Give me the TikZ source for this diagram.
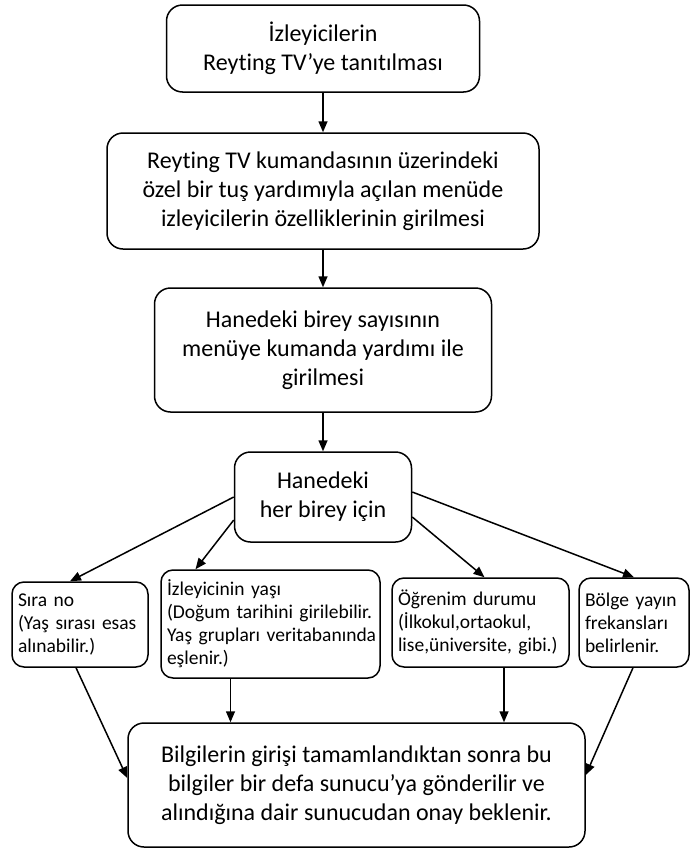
\documentclass[tikz,border=0pt]{standalone}
\usepackage{fontspec}
\setmainfont{Carlito}[Ligatures=NoCommon]
\usetikzlibrary{arrows.meta}

% stretch one line of a small box to its full width
\newcommand{\fullline}[1]{\makebox[\hsize][s]{#1}}

\begin{document}
\begin{tikzpicture}[x=1pt,y=-1pt,
    bigbox/.style={draw, line width=1.5pt, rounded corners=16pt, align=center,
        font=\fontsize{24}{29}\selectfont, inner sep=0pt},
    smallbox/.style={draw, line width=1.5pt, rounded corners=12pt, align=left,
        font=\fontsize{19.5}{23}\selectfont, inner xsep=6pt, inner ysep=0pt},
    flow/.style={line width=1.5pt, -{Triangle[length=11pt,width=9pt]}}]

    \useasboundingbox (0,0) rectangle (699,849);

    % --- Main column ---
    \node[bigbox, minimum width=313pt, minimum height=87pt] (intro) at (323,48.5)
        {İzleyicilerin\\Reyting TV’ye tanıtılması};
    \node[bigbox, minimum width=432pt, minimum height=116pt] (menu) at (323,191)
        {Reyting TV kumandasının üzerindeki\\özel bir tuş yardımıyla açılan menüde\\izleyicilerin özelliklerinin girilmesi};
    \node[bigbox, minimum width=337pt, minimum height=124pt] (count) at (323,350)
        {Hanedeki birey sayısının\\menüye kumanda yardımı ile\\girilmesi};
    \node[bigbox, minimum width=177pt, minimum height=90pt] (each) at (323,497)
        {Hanedeki\\her birey için};

    % --- Details per person ---
    \node[smallbox, text width=124pt, minimum height=85pt] (order) at (80,624.5)
        {Sıra no\\\fullline{(Yaş sırası esas}\\alınabilir.)};
    \node[smallbox, text width=207pt, minimum height=108pt] (age) at (270.5,624)
        {İzleyicinin yaşı\\\fullline{(Doğum tarihini girilebilir.}\\\fullline{Yaş grupları veritabanında}\\eşlenir.)};
    \node[smallbox, text width=165pt, minimum height=89pt] (school) at (480.5,622.5)
        {Öğrenim durumu\\(İlkokul,ortaokul,\\lise,üniversite, gibi.)};
    \node[smallbox, text width=98pt, minimum height=89pt] (region) at (634,622.5)
        {Bölge yayın\\frekansları\\belirlenir.};

    % --- Final step ---
    \node[bigbox, minimum width=457pt, minimum height=124pt] (send) at (356.5,785)
        {Bilgilerin girişi tamamlandıktan sonra bu\\bilgiler bir defa sunucu’ya gönderilir ve\\alındığına dair sunucudan onay beklenir.};

    % --- Arrows ---
    \draw[flow] (intro) -- (menu);
    \draw[flow] (menu) -- (count);
    \draw[flow] (count) -- (each);

    \draw[flow] (each.west) -- ([xshift=-10pt]order.north);
    \draw[flow] ([yshift=-23pt]each.west) -- ([xshift=-75pt]age.north);
    \draw[flow] ([yshift=-20pt]each.east) -- ([xshift=4pt]school.north);
    \draw[flow] ([yshift=5pt]each.east) -- (region.north);

    \coordinate (ageout) at ([xshift=-40pt]age.south);
    \coordinate (schoolout) at ([xshift=23.5pt]school.south);
    \draw[flow] ([xshift=-4pt]order.south) -- ([yshift=7pt]send.west);
    \draw[flow] (ageout) -- (ageout |- send.north);
    \draw[flow] (schoolout) -- (schoolout |- send.north);
    \draw[flow] ([xshift=-1pt]region.south) -- ([yshift=10pt]send.east);

\end{tikzpicture}
\end{document}
